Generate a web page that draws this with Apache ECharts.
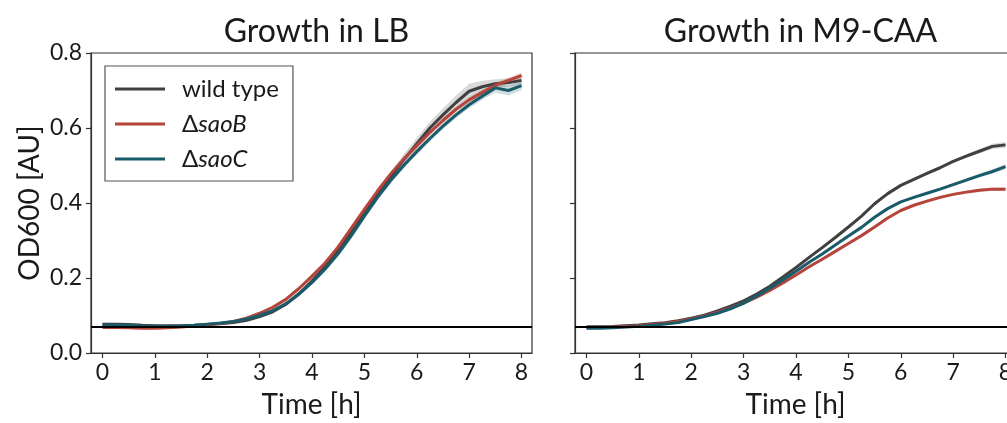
<!DOCTYPE html>
<html>
<head>
<meta charset="utf-8">
<script src="https://cdn.jsdelivr.net/npm/echarts@6/dist/echarts.min.js"></script>
<style>html,body{margin:0;padding:0;background:#fff}#c{width:1007px;height:423px}</style>
</head>
<body>
<div id="c"></div>
<script>
const time = [0,0.25,0.5,0.75,1,1.25,1.5,1.75,2,2.25,2.5,2.75,3,3.25,3.5,3.75,4,4.25,4.5,4.75,5,5.25,5.5,5.75,6,6.25,6.5,6.75,7,7.25,7.5,7.75,8];
const xTicks = [0,1,2,3,4,5,6,7,8];
const yTicks = [0,0.2,0.4,0.6,0.8];
const strainNames = ['wild type','ΔsaoB','ΔsaoC'];
const panelTitles = ['Growth in LB','Growth in M9-CAA'];
const baseline = 0.07;

// LB
const lbWild = [0.077,0.077,0.076,0.074,0.073,0.073,0.073,0.074,0.076,0.078,0.081,0.087,0.097,0.110,0.130,0.158,0.192,0.230,0.273,0.322,0.373,0.423,0.470,0.515,0.558,0.600,0.635,0.668,0.698,0.710,0.718,0.721,0.727];
const lbSaoB = [0.068,0.068,0.067,0.066,0.066,0.067,0.069,0.072,0.075,0.079,0.084,0.093,0.106,0.122,0.143,0.172,0.205,0.240,0.283,0.333,0.383,0.432,0.477,0.517,0.553,0.588,0.620,0.650,0.675,0.695,0.714,0.727,0.740];
const lbSaoC = [0.075,0.075,0.074,0.072,0.071,0.071,0.072,0.074,0.077,0.080,0.084,0.091,0.100,0.113,0.131,0.157,0.188,0.224,0.265,0.313,0.365,0.415,0.460,0.500,0.537,0.572,0.605,0.635,0.662,0.685,0.707,0.700,0.713];
const lbWildErr = [0.004,0.004,0.004,0.004,0.003,0.003,0.003,0.003,0.003,0.003,0.003,0.004,0.004,0.005,0.006,0.007,0.008,0.009,0.010,0.011,0.012,0.013,0.014,0.015,0.016,0.017,0.018,0.019,0.020,0.016,0.012,0.011,0.012];
const lbSaoBErr = [0.003,0.003,0.003,0.003,0.003,0.003,0.003,0.003,0.003,0.003,0.003,0.003,0.004,0.004,0.005,0.005,0.006,0.006,0.007,0.007,0.007,0.007,0.007,0.007,0.007,0.007,0.007,0.007,0.008,0.008,0.008,0.008,0.008];
const lbSaoCErr = [0.003,0.003,0.003,0.003,0.003,0.003,0.003,0.003,0.003,0.003,0.003,0.003,0.004,0.004,0.005,0.006,0.006,0.007,0.008,0.008,0.008,0.008,0.008,0.008,0.008,0.008,0.008,0.008,0.009,0.010,0.012,0.013,0.012];

// M9-CAA
const m9Wild = [0.070,0.070,0.071,0.073,0.075,0.078,0.081,0.086,0.093,0.101,0.112,0.125,0.139,0.157,0.178,0.203,0.228,0.255,0.281,0.308,0.336,0.365,0.398,0.425,0.447,0.463,0.479,0.494,0.511,0.525,0.538,0.551,0.555];
const m9SaoB = [0.068,0.068,0.069,0.071,0.073,0.076,0.079,0.084,0.091,0.099,0.109,0.120,0.133,0.149,0.167,0.187,0.208,0.230,0.250,0.271,0.292,0.313,0.336,0.360,0.380,0.394,0.405,0.415,0.423,0.429,0.434,0.437,0.437];
const m9SaoC = [0.066,0.066,0.067,0.069,0.071,0.074,0.077,0.081,0.089,0.097,0.106,0.118,0.133,0.152,0.173,0.195,0.218,0.242,0.264,0.288,0.312,0.335,0.362,0.385,0.403,0.415,0.426,0.437,0.449,0.461,0.473,0.484,0.497];
const m9WildErr = [0.003,0.003,0.003,0.003,0.003,0.003,0.003,0.003,0.003,0.003,0.003,0.003,0.003,0.003,0.003,0.003,0.003,0.003,0.003,0.003,0.003,0.003,0.003,0.003,0.003,0.004,0.004,0.004,0.004,0.005,0.006,0.007,0.008];
const m9SaoBErr = [0.003,0.003,0.003,0.003,0.003,0.003,0.003,0.003,0.003,0.003,0.003,0.003,0.003,0.003,0.003,0.003,0.003,0.003,0.003,0.003,0.003,0.003,0.003,0.003,0.003,0.003,0.004,0.004,0.004,0.004,0.005,0.005,0.005];
const m9SaoCErr = [0.003,0.003,0.003,0.003,0.003,0.003,0.003,0.003,0.003,0.003,0.003,0.003,0.003,0.003,0.003,0.003,0.003,0.003,0.003,0.003,0.003,0.003,0.003,0.003,0.003,0.003,0.004,0.004,0.004,0.005,0.005,0.006,0.007];

const colors = ['#404040','#b5443a','#1a5b6b'];
const bandColors = ['rgba(64,64,64,0.2)','rgba(181,68,58,0.2)','rgba(26,91,107,0.2)'];
const FONT = 'Lato';
const TXT = '#1a1a1a';
const AX = '#333';

const panels = [
  {vals:[lbWild,lbSaoB,lbSaoC], errs:[lbWildErr,lbSaoBErr,lbSaoCErr]},
  {vals:[m9Wild,m9SaoB,m9SaoC], errs:[m9WildErr,m9SaoBErr,m9SaoCErr]}
];

const series = [];
panels.forEach((p, pi) => {
  p.vals.forEach((vals, si) => {
    const err = p.errs[si];
    series.push({
      type:'custom', name:'band'+pi+'_'+si, coordinateSystem:'cartesian2d',
      xAxisIndex:pi, yAxisIndex:pi, silent:true, z:1,
      data:[[time[0], vals[0]]],
      renderItem:function(params, api){
        const pts = [];
        for (let i = 0; i < time.length; i++) pts.push(api.coord([time[i], vals[i] + err[i]]));
        for (let i = time.length - 1; i >= 0; i--) pts.push(api.coord([time[i], vals[i] - err[i]]));
        return {type:'polygon', shape:{points:pts}, style:{fill:bandColors[si]}};
      }
    });
  });
  p.vals.forEach((vals, si) => {
    series.push({
      type:'line', name:strainNames[si], xAxisIndex:pi, yAxisIndex:pi,
      data: time.map((t,i)=>[t, vals[i]]), symbol:'none', silent:true,
      lineStyle:{color:colors[si], width:3}, itemStyle:{color:colors[si]}, z:2+si
    });
  });
  series.push({
    type:'line', name:'baseline'+pi, xAxisIndex:pi, yAxisIndex:pi, data:[], silent:true, z:10,
    markLine:{silent:true, symbol:['none','none'], label:{show:false},
      lineStyle:{color:'#000', width:2, type:'solid'}, data:[{yAxis:baseline}], animation:false}
  });
});

const gridLefts = [91, 575];
const grids = gridLefts.map(l => ({left:l, top:53, width:441, height:300, show:true, outerBoundsMode:'none', containLabel:false, borderColor:AX, borderWidth:1.2, backgroundColor:'transparent'}));

const xAxes = gridLefts.map((l, i) => ({
  type:'value', gridIndex:i, min:-0.22, max:8.2,
  name:'Time [h]', nameLocation:'middle', nameGap:38,
  nameTextStyle:{fontFamily:FONT, fontSize:28, color:TXT},
  axisLine:{show:true, onZero:false, lineStyle:{color:AX, width:1.2}},
  axisTick:{show:true, length:5, lineStyle:{color:AX, width:1.2}, customValues:xTicks},
  axisLabel:{fontFamily:FONT, fontSize:23, color:TXT, margin:8, customValues:xTicks},
  splitLine:{show:false}
}));

const yAxes = gridLefts.map((l, i) => ({
  type:'value', gridIndex:i, min:0, max:0.8, interval:0.2,
  name: i===0 ? 'OD600 [AU]' : '', nameLocation:'middle', nameGap:47,
  nameTextStyle:{fontFamily:FONT, fontSize:28, color:TXT},
  axisLine:{show:true, onZero:false, lineStyle:{color:AX, width:1.2}},
  axisTick:{show:true, length:5, lineStyle:{color:AX, width:1.2}},
  axisLabel:{show:i===0, fontFamily:FONT, fontSize:23, color:TXT, margin:9, formatter:v=>v.toFixed(1)},
  splitLine:{show:false}
}));

const titles = panelTitles.map((t, i) => ({
  text:t, left:gridLefts[i]+220.5, top:11, textAlign:'center',
  textStyle:{fontFamily:FONT, fontSize:32, fontWeight:'normal', color:TXT}
}));

const chart = echarts.init(document.getElementById('c'), null, {renderer:'canvas'});
chart.setOption({
  animation:false,
  backgroundColor:'#fff',
  title:titles,
  grid:grids,
  xAxis:xAxes,
  yAxis:yAxes,
  legend:{
    data:strainNames, orient:'vertical', left:105, top:66,
    padding:[11,14,10,10], itemGap:11, itemWidth:50, itemHeight:3, icon:'rect',
    borderColor:'#555', borderWidth:1.2, backgroundColor:'#fff',
    selectedMode:false,
    formatter:function(name){ if(name==='wild type') return 'wild type'; return '{n|Δ}{i|'+name.slice(1)+'}'; },
    textStyle:{fontFamily:FONT, fontSize:24, color:TXT, padding:[0,0,0,12],
      rich:{n:{fontFamily:FONT, fontSize:24, color:TXT}, i:{fontFamily:FONT, fontSize:24, fontStyle:'italic', color:TXT}}}
  },
  series:series
});
</script>
</body>
</html>
